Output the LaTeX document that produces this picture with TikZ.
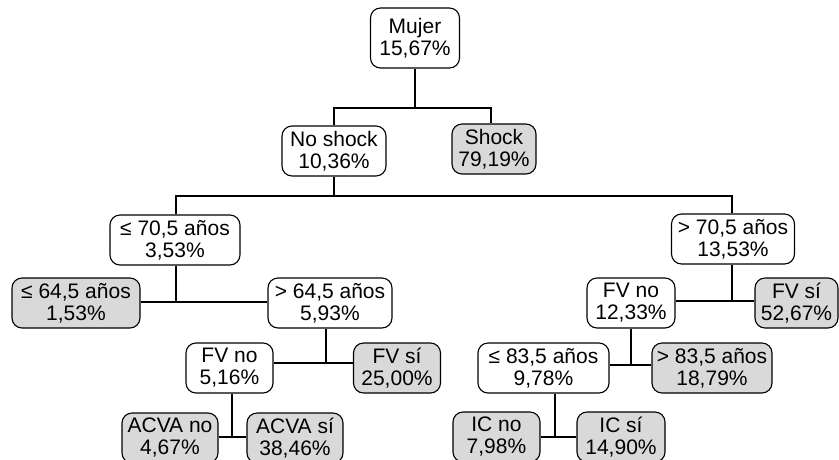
\documentclass[tikz,border=0pt]{standalone}
\usepackage{fontspec}
\setmainfont{Liberation Sans}
\begin{document}
\begin{tikzpicture}[x=1pt,y=-1pt,
  box/.style={draw, line width=1.1pt, rounded corners=10pt, align=center, inner sep=0pt,
    minimum height=50pt, font=\fontsize{21}{22}\selectfont},
  leaf/.style={box, fill=black!15},
  conn/.style={line width=1.1pt}]
\useasboundingbox (0,0) rectangle (839,459);
\node[box, minimum width=89pt, minimum height=60pt] (mujer) at (415,38) {Mujer\\15,67\%};
\node[box, minimum width=104pt] (noshock) at (334,151) {No shock\\10,36\%};
\node[leaf, minimum width=84pt] (shock) at (494,149) {Shock\\79,19\%};
\node[box, minimum width=130pt] (le70) at (175,240) {≤ 70,5 años\\3,53\%};
\node[box, minimum width=123pt] (gt70) at (733,239) {> 70,5 años\\13,53\%};
\node[leaf, minimum width=128pt] (le64) at (76,303) {≤ 64,5 años\\1,53\%};
\node[box, minimum width=124pt] (gt64) at (330,303) {> 64,5 años\\5,93\%};
\node[box, minimum width=87pt] (fvno1) at (229.5,368) {FV no\\5,16\%};
\node[leaf, minimum width=87pt] (fvsi1) at (397,368) {FV sí\\25,00\%};
\node[box, minimum width=88pt] (fvno2) at (631,303) {FV no\\12,33\%};
\node[leaf, minimum width=83pt] (fvsi2) at (796.5,303) {FV sí\\52,67\%};
\node[box, minimum width=131pt] (le83) at (543.5,368) {≤ 83,5 años\\9,78\%};
\node[leaf, minimum width=120pt] (gt83) at (712,368) {> 83,5 años\\18,79\%};
\node[leaf, minimum width=96pt] (acvano) at (170,438) {ACVA no\\4,67\%};
\node[leaf, minimum width=96pt] (acvasi) at (295,438) {ACVA sí\\38,46\%};
\node[leaf, minimum width=87pt] (icno) at (496.5,437) {IC no\\7,98\%};
\node[leaf, minimum width=88pt] (icsi) at (621,437) {IC sí\\14,90\%};
% junctions
\coordinate (j1) at (415,108);
\coordinate (j2) at (334,196);
\coordinate (j3) at (176,302);
\coordinate (j4) at (732,301);
\coordinate (j5) at (326,363);
\coordinate (j6) at (631,365);
\coordinate (j7) at (232,437);
\coordinate (j8) at (555,437);
\draw[conn] (mujer.south) -- (j1);
\draw[conn] (noshock.north) |- (j1) -| ([xshift=-3pt]shock.north);
\draw[conn] (noshock.south) -- (j2);
\draw[conn] (le70.north -| j3) |- (j2) -| (gt70.north -| j4);
\draw[conn] (le70.south -| j3) -- (j3);
\draw[conn] (le64.east |- j3) -- (gt64.west |- j3);
\draw[conn] (gt70.south -| j4) -- (j4);
\draw[conn] (fvno2.east |- j4) -- (fvsi2.west |- j4);
\draw[conn] (gt64.south -| j5) -- (j5);
\draw[conn] (fvno1.east |- j5) -- (fvsi1.west |- j5);
\draw[conn] (fvno2.south -| j6) -- (j6);
\draw[conn] (le83.east |- j6) -- (gt83.west |- j6);
\draw[conn] (fvno1.south -| j7) -- (j7);
\draw[conn] (acvano.east |- j7) -- (acvasi.west |- j7);
\draw[conn] (le83.south -| j8) -- (j8);
\draw[conn] (icno.east |- j8) -- (icsi.west |- j8);
\end{tikzpicture}
\end{document}
